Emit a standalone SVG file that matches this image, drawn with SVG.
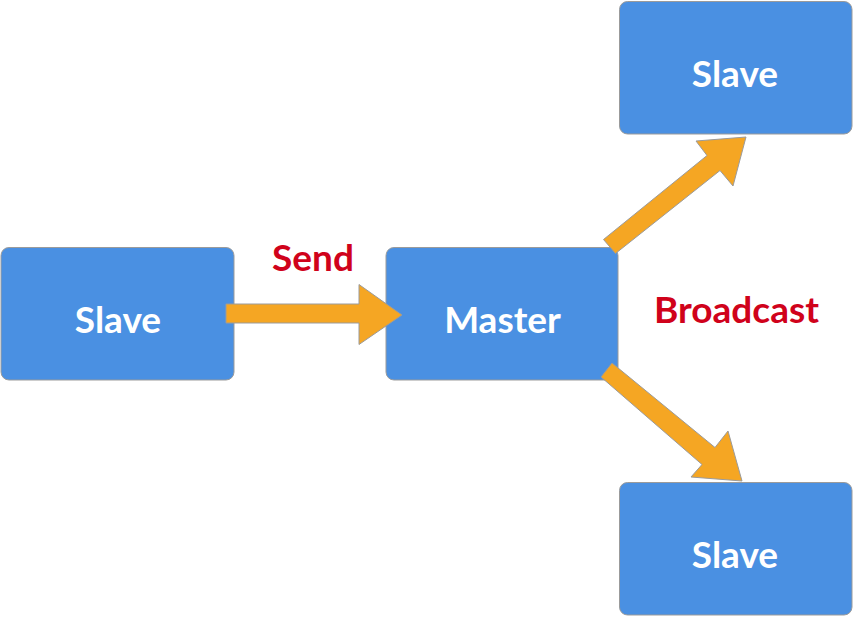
<svg xmlns="http://www.w3.org/2000/svg" width="854" height="617" viewBox="0 0 854 617">
<style>
.box{fill:#4A90E2;stroke:#9B9B9B;stroke-width:1}
.lbl{fill:#FFFFFF;font-family:Lato,"Open Sans","Liberation Sans",sans-serif;font-weight:bold;font-size:37px;text-anchor:middle}
.red{fill:#D0021B;font-family:Lato,"Open Sans","Liberation Sans",sans-serif;font-weight:bold;font-size:37px;text-anchor:middle}
.arr{fill:#F5A623;stroke:#9B9B9B;stroke-width:1;stroke-linejoin:miter}
</style>
<rect width="854" height="617" fill="#FFFFFF"/>
<g id="slave-left"><rect class="box" x="1" y="247.5" width="233" height="132.5" rx="8"/><text class="lbl" x="118" y="333">Slave</text></g>
<g id="master"><rect class="box" x="386" y="247.5" width="232" height="132.5" rx="8"/><text class="lbl" x="502.5" y="333">Master</text></g>
<g id="slave-top"><rect class="box" x="619.5" y="1.5" width="232.5" height="132.5" rx="8"/><text class="lbl" x="735" y="87">Slave</text></g>
<g id="slave-bottom"><rect class="box" x="619.5" y="482.5" width="232.5" height="132.5" rx="8"/><text class="lbl" x="735" y="568">Slave</text></g>
<g id="connectors">
<polygon class="arr" points="226,304 359,304 359,284.5 402,315 359,344.5 359,323 226,323"/>
<polygon class="arr" points="603.5,239.5 707,155.5 696,141 746,137 733,186 720,170.5 615.5,253.5"/>
<polygon class="arr" points="612,363 715,447.5 728,431 742,481 691,477 702,464.5 601,377"/>
<text class="red" x="313" y="271">Send</text>
<text class="red" x="736.5" y="323">Broadcast</text>
</g>
</svg>
